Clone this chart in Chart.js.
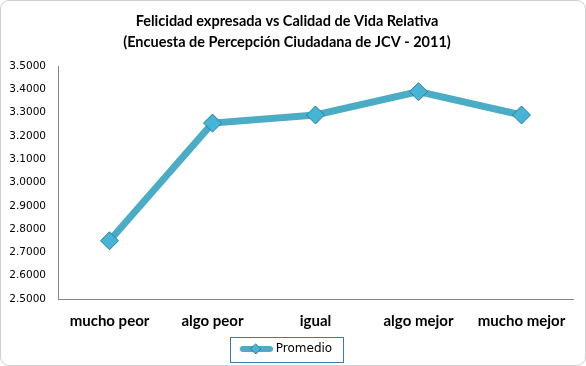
<!DOCTYPE html>
<html>
<head>
<meta charset="utf-8">
<script src="https://cdn.jsdelivr.net/npm/chart.js@4/dist/chart.umd.min.js"></script>
<style>
  html, body { margin: 0; padding: 0; background: #fff; }
  .wrap {
    width: 586px; height: 366px; box-sizing: border-box;
    border: 1px solid #d0d0d0; border-radius: 9px; overflow: hidden;
  }
</style>
</head>
<body>
<div class="wrap"><canvas id="chart" width="584" height="364"></canvas></div>
<script>
// Datos
const categorias = ["mucho peor", "algo peor", "igual", "algo mejor", "mucho mejor"];
const promedio = [2.75, 3.255, 3.29, 3.39, 3.29];
const tituloLineas = ["Felicidad expresada vs Calidad de Vida Relativa", "(Encuesta de Percepción Ciudadana de JCV - 2011)"];
const nombreSerie = "Promedio";

const azul = '#4BACC6';

// legend symbol: thick line with small diamond
function legendSymbol() {
    const c = document.createElement('canvas');
    c.width = 34; c.height = 14;
    const g = c.getContext('2d');
    g.strokeStyle = azul;
    g.lineWidth = 6;
    g.lineCap = 'round';
    g.beginPath(); g.moveTo(4, 7); g.lineTo(31, 7); g.stroke();
    g.fillStyle = '#45b4d6';
    g.strokeStyle = '#2e7f96';
    g.lineWidth = 1;
    g.beginPath(); g.moveTo(17, 2); g.lineTo(22, 7); g.lineTo(17, 12); g.lineTo(12, 7); g.closePath();
    g.fill(); g.stroke();
    return c;
}

// border around the legend
const legendBorder = {
    id: 'legendBorder',
    afterDraw(chart) {
        const box = chart.legend.legendHitBoxes[0];
        if (!box) return;
        const ctx = chart.ctx;
        ctx.save();
        ctx.strokeStyle = '#3d7aa6';
        ctx.lineWidth = 1;
        ctx.strokeRect(Math.round(box.left - 12) + 0.5, Math.round(box.top - 6) + 0.5, Math.round(box.width + 23), Math.round(box.height + 13));
        ctx.restore();
    }
};

new Chart(document.getElementById('chart'), {
    type: 'line',
    data: {
        labels: categorias,
        datasets: [{
            label: nombreSerie,
            data: promedio,
            borderColor: azul,
            borderWidth: 7,
            tension: 0,
            pointStyle: 'rectRot',
            pointRadius: 9,
            pointBackgroundColor: '#45b4d6',
            pointBorderColor: '#2e7f96',
            pointBorderWidth: 1
        }]
    },
    options: {
        responsive: false,
        animation: false,
        layout: { padding: { left: 0, right: 12, top: 6, bottom: 0 } },
        plugins: {
            title: {
                display: true,
                text: tituloLineas,
                color: '#000',
                font: { family: 'Lato', size: 14.5, weight: 'bold', lineHeight: 1.45 },
                padding: { top: 4, bottom: 13 }
            },
            legend: {
                position: 'bottom',
                labels: {
                    usePointStyle: true,
                    pointStyle: legendSymbol(),
                    pointStyleWidth: 28,
                    color: '#000',
                    font: { family: 'DejaVu Sans', size: 12 },
                    padding: 10
                }
            },
            tooltip: { enabled: false }
        },
        scales: {
            x: {
                offset: true,
                grid: { display: false, drawTicks: false },
                border: { color: '#868686' },
                afterFit: s => { s.height = 34; },
                ticks: {
                    color: '#000',
                    font: { family: 'Lato', size: 15, weight: 'bold' },
                    padding: 13,
                    maxRotation: 0
                }
            },
            y: {
                min: 2.5,
                max: 3.5,
                grid: { display: false, drawTicks: false },
                border: { color: '#868686' },
                afterFit: s => { s.width = 57; },
                ticks: {
                    stepSize: 0.1,
                    color: '#000',
                    font: { family: 'DejaVu Sans', size: 10.5 },
                    padding: 12,
                    callback: v => v.toFixed(4)
                }
            }
        }
    },
    plugins: [legendBorder]
});
</script>
</body>
</html>
